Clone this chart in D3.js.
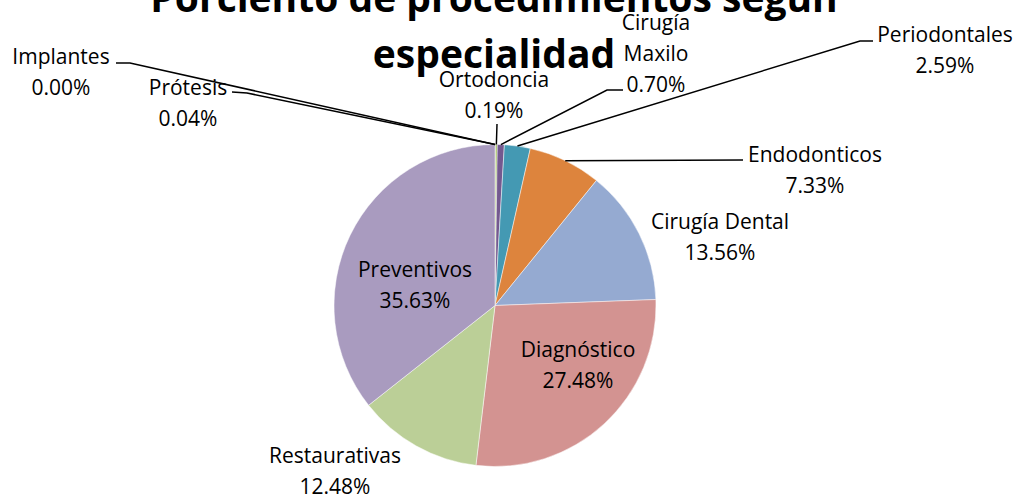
<!DOCTYPE html>
<html>
<head>
<meta charset="utf-8">
<script src="https://cdn.jsdelivr.net/npm/d3@7"></script>
<style>
  html, body { margin: 0; padding: 0; background: #fff; }
  svg { display: block; }
  text { font-family: "Open Sans", Lato, sans-serif; fill: #000; }
</style>
</head>
<body>
<svg id="chart" width="1024" height="502"></svg>
<script>
// Procedures by specialty (percent of total)
const categories = ["Implantes", "Prótesis", "Ortodoncia", "Cirugía Maxilo", "Periodontales",
                    "Endodonticos", "Cirugía Dental", "Diagnóstico", "Restaurativas", "Preventivos"];
const percentages = [0.00, 0.04, 0.19, 0.70, 2.59, 7.33, 13.56, 27.48, 12.48, 35.63];
const titleLines = ["Porciento de procedimientos según", "especialidad"];

// Slice colours
const sliceColors = ["#4f81bd", "#c0504d", "#9bbb59", "#74598f", "#4499b3",
                     "#dd843d", "#95aad1", "#d39391", "#bbcf97", "#a99bbf"];

// Label placement: centre x, first baseline, text lines, optional leader start / elbow
const labelLayout = [
  { x: 61,  y: 64,  lines: ["Implantes"],         start: [116, 63], elbow: [130, 63] },
  { x: 188, y: 95,  lines: ["Prótesis"],          start: [232, 92], elbow: [247, 93] },
  { x: 494, y: 87,  lines: ["Ortodoncia"],        start: [497, 124] },
  { x: 656, y: 30,  lines: ["Cirugía", "Maxilo"], start: [623, 90], elbow: [607, 90] },
  { x: 945, y: 42,  lines: ["Periodontales"],     start: [873, 41], elbow: [860, 41] },
  { x: 815, y: 162, lines: ["Endodonticos"],      start: [743, 160] },
  { x: 720, y: 229, lines: ["Cirugía Dental"] },
  { x: 578, y: 357, lines: ["Diagnóstico"] },
  { x: 335, y: 463, lines: ["Restaurativas"] },
  { x: 415, y: 277, lines: ["Preventivos"] }
];

const cx = 495, cy = 305.5, radius = 161;
const lineGap = 31;
const svg = d3.select("#chart");

const fmt = v => v.toFixed(2) + "%";

const data = categories.map((c, i) => ({ name: c, value: percentages[i], color: sliceColors[i], layout: labelLayout[i] }));

const pie = d3.pie().sort(null).value(d => d.value);
const arcs = pie(data);
const arc = d3.arc().innerRadius(0).outerRadius(radius);
const edge = d3.arc().innerRadius(radius).outerRadius(radius);

const g = svg.append("g").attr("transform", `translate(${cx},${cy})`);

g.selectAll("path.slice")
  .data(arcs)
  .join("path")
  .attr("class", "slice")
  .attr("d", arc)
  .attr("fill", d => d.data.color)
  .attr("stroke", "#ffffff")
  .attr("stroke-opacity", 0.6)
  .attr("stroke-width", 0.8);

// Leader lines from label to slice edge
const leaders = arcs.filter(d => d.data.layout.start);
svg.append("g").selectAll("polyline")
  .data(leaders)
  .join("polyline")
  .attr("points", d => {
    const L = d.data.layout;
    const p = edge.centroid(d);
    const pts = [L.start];
    if (L.elbow) pts.push(L.elbow);
    pts.push([cx + p[0], cy + p[1]]);
    return pts.map(q => q.join(",")).join(" ");
  })
  .attr("fill", "none")
  .attr("stroke", "#000")
  .attr("stroke-width", 1.5);

// Data labels
const labels = svg.append("g").selectAll("text.label")
  .data(arcs)
  .join("text")
  .attr("class", "label")
  .attr("text-anchor", "middle")
  .style("font-size", "21px");

labels.each(function(d) {
  const L = d.data.layout;
  const t = d3.select(this);
  const lines = L.lines.concat([fmt(d.data.value)]);
  lines.forEach((s, i) => {
    t.append("tspan").attr("x", L.x).attr("y", L.y + i * lineGap).text(s);
  });
});

// Title
svg.append("g").selectAll("text.title")
  .data(titleLines)
  .join("text")
  .attr("class", "title")
  .attr("x", 494)
  .attr("y", (d, i) => 12 + i * 56)
  .attr("text-anchor", "middle")
  .style("font-size", "39px")
  .style("font-weight", "bold")
  .text(d => d);
</script>
</body>
</html>
